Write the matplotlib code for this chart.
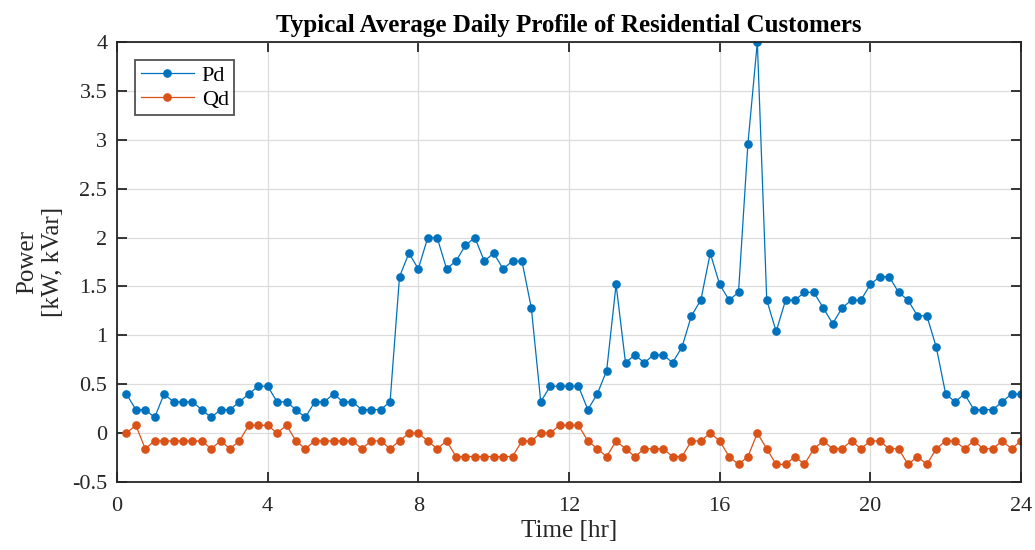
import numpy as np
import matplotlib
matplotlib.use("Agg")
import matplotlib.pyplot as plt

# 15-minute time steps (hours)
time_hr = np.arange(1, 97) * 0.25

pd_kw = [0.4, 0.24, 0.24, 0.16, 0.4, 0.32, 0.32, 0.32, 0.24, 0.16,
         0.24, 0.24, 0.32, 0.4, 0.48, 0.48, 0.32, 0.32, 0.24, 0.16,
         0.32, 0.32, 0.4, 0.32, 0.32, 0.24, 0.24, 0.24, 0.32,
         1.6, 1.84, 1.68, 2.0, 2.0, 1.68, 1.76, 1.92, 2.0, 1.76, 1.84,
         1.68, 1.76, 1.76, 1.28,
         0.32, 0.48, 0.48, 0.48, 0.48, 0.24, 0.4, 0.64, 1.52, 0.72,
         0.8, 0.72, 0.8, 0.8, 0.72, 0.88,
         1.2, 1.36, 1.84, 1.52, 1.36, 1.44, 2.96, 4.0, 1.36, 1.04, 1.36, 1.36,
         1.44, 1.44, 1.28, 1.12, 1.28, 1.36, 1.36, 1.52, 1.6, 1.6,
         1.44, 1.36, 1.2, 1.2, 0.88, 0.4, 0.32, 0.4, 0.24, 0.24,
         0.24, 0.32, 0.4, 0.4]

qd_kvar = [0.0, 0.08, -0.16, -0.08, -0.08, -0.08, -0.08, -0.08, -0.08, -0.16,
           -0.08, -0.16, -0.08, 0.08, 0.08, 0.08, 0.0, 0.08, -0.08, -0.16,
           -0.08, -0.08, -0.08, -0.08, -0.08, -0.16, -0.08, -0.08, -0.16,
           -0.08, 0.0, 0.0, -0.08, -0.16, -0.08,
           -0.24, -0.24, -0.24, -0.24, -0.24, -0.24, -0.24,
           -0.08, -0.08, 0.0, 0.0, 0.08, 0.08, 0.08, -0.08, -0.16, -0.24,
           -0.08, -0.16, -0.24, -0.16, -0.16, -0.16, -0.24, -0.24, -0.08, -0.08,
           0.0, -0.08, -0.24, -0.32, -0.24, 0.0, -0.16, -0.32, -0.32, -0.24,
           -0.32, -0.16, -0.08, -0.16, -0.16, -0.08, -0.16, -0.08, -0.08, -0.16,
           -0.16, -0.32, -0.24, -0.32, -0.16, -0.08, -0.08, -0.16, -0.08, -0.16,
           -0.16, -0.08, -0.16, -0.08]

x_ticks = [0, 4, 8, 12, 16, 20, 24]
y_ticks = [-0.5, 0, 0.5, 1, 1.5, 2, 2.5, 3, 3.5, 4]
y_tick_labels = ["-0.5", "0", "0.5", "1", "1.5", "2", "2.5", "3", "3.5", "4"]

plt.rcParams['font.family'] = ['Liberation Serif', 'DejaVu Serif']

fig = plt.figure(figsize=(10.35, 5.5), dpi=100)
ax = fig.add_axes([117/1035, 68/550, (1021-117)/1035, (482-42)/550])

blue = '#0072BD'
orange = '#D95319'
ax.plot(time_hr, pd_kw, '-o', color=blue, lw=0.9, ms=5.2, label='Pd')
ax.plot(time_hr, qd_kvar, '-o', color=orange, lw=0.9, ms=5.2, label='Qd')

ax.set_xlim(0, 24)
ax.set_ylim(-0.5, 4)
ax.set_xticks(x_ticks)
ax.set_xticklabels([str(t) for t in x_ticks])
ax.set_yticks(y_ticks)
ax.set_yticklabels(y_tick_labels)

ax.grid(True, color='#dcdcdc', lw=0.9)
ax.set_axisbelow(True)
for s in ax.spines.values():
    s.set_color('#262626')
    s.set_linewidth(1.3)
ax.tick_params(direction='in', length=7, width=1.3, color='#262626',
               top=True, right=True, labelsize=16, labelcolor='#262626')
ax.tick_params(axis='x', pad=11)
ax.tick_params(axis='y', pad=7)

ax.set_xlabel('Time [hr]', fontsize=18, color='#262626', labelpad=3)
ax.set_ylabel('Power\n[kW, kVar]', fontsize=18, color='#262626', labelpad=6,
              linespacing=1.2)
ax.set_title('Typical Average Daily Profile of Residential Customers',
             fontsize=18, fontweight='bold', pad=7)

leg = ax.legend(loc='upper left', bbox_to_anchor=(0.015, 0.97), fontsize=16,
                frameon=True, fancybox=False, edgecolor='#262626',
                borderpad=0.25, labelspacing=0.15, handlelength=2.4,
                handletextpad=0.35, borderaxespad=0.2)
leg.get_frame().set_linewidth(1.3)

fig.savefig('out.png', dpi=100)
